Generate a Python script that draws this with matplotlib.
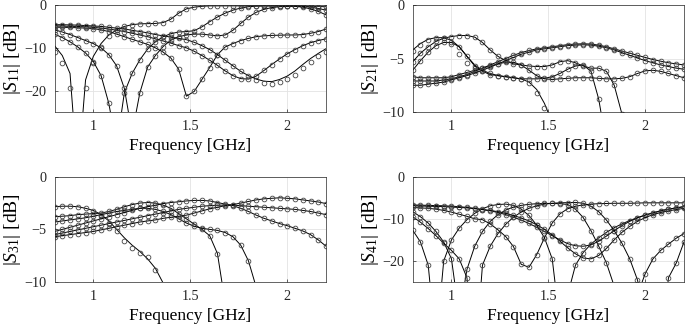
import numpy as np
import matplotlib
matplotlib.use("Agg")
import matplotlib.pyplot as plt

plt.rcParams['font.family'] = ['Liberation Serif', 'DejaVu Serif']
plt.rcParams['mathtext.fontset'] = 'custom'
plt.rcParams['mathtext.rm'] = 'Liberation Serif'
plt.rcParams['mathtext.it'] = 'Liberation Serif:italic'

nan = np.nan

# ----------------------------------- frequency grid [GHz] -----------------------------------
freq = [0.80, 0.84, 0.88, 0.92, 0.96, 1.00, 1.04, 1.08, 1.12, 1.16, 1.20, 1.24,
        1.28, 1.32, 1.36, 1.40, 1.44, 1.48, 1.52, 1.56, 1.60, 1.64, 1.68, 1.72,
        1.76, 1.80, 1.84, 1.88, 1.92, 1.96, 2.00, 2.04, 2.08, 2.12, 2.16, 2.20]

# ----------------------------------- |S11| [dB], six states (simulated) -----------------------------------
s11_a = [-9.5, -11.8, -16.0, -40, -17.5, -12.0, -9.0, -7.0, -5.8, -5.0, -4.6, -4.4,
         -4.35, -4.3, -4.1, -3.3, -1.9, -0.9, -0.5, -0.3, -0.2, -0.2, -0.2, -0.2,
         -0.2, -0.2, -0.2, -0.2, -0.2, -0.2, -0.2, -0.2, -0.25, -0.3, -0.35, -0.4]
s11_b = [-6.8, -7.6, -8.6, -9.8, -11.2, -13.2, -16.5, -23.0, -33, -20.5, -16.0, -12.8,
         -10.3, -8.6, -7.4, -6.7, -6.3, -6.2, -6.0, -5.1, -3.9, -2.8, -1.9, -1.2,
         -0.7, -0.4, -0.25, -0.2, -0.2, -0.2, -0.2, -0.2, -0.3, -0.5, -0.8, -1.2]
s11_c = [-5.8, -6.3, -6.9, -7.6, -8.3, -9.0, -10.0, -11.6, -14.2, -19.5, -30, -20.5,
         -14.5, -11.8, -9.7, -8.2, -7.4, -7.0, -6.8, -6.8, -7.0, -7.2, -7.0, -5.9,
         -4.3, -2.8, -1.7, -1.0, -0.6, -0.4, -0.3, -0.3, -0.5, -0.9, -1.5, -2.3]
s11_d = [-5.2, -5.2, -5.25, -5.3, -5.4, -5.5, -5.8, -6.2, -6.8, -7.4, -8.0, -8.6,
         -9.2, -10.0, -11.0, -12.4, -15.0, -21.3, -20.2, -17.4, -14.6, -11.6, -9.8, -9.0,
         -8.3, -7.8, -7.4, -7.2, -7.1, -7.05, -7.0, -7.0, -6.9, -6.6, -6.2, -5.6]
s11_e = [-4.9, -4.9, -5.0, -5.0, -5.1, -5.2, -5.4, -5.6, -5.9, -6.2, -6.6, -7.0,
         -7.4, -7.9, -8.4, -8.9, -9.5, -10.0, -10.8, -11.8, -12.9, -14.1, -15.4, -16.5,
         -17.2, -17.3, -16.6, -15.3, -13.9, -12.6, -11.4, -10.4, -9.5, -8.8, -8.3, -7.9]
s11_f = [-4.6, -4.6, -4.65, -4.7, -4.8, -4.9, -5.0, -5.2, -5.4, -5.6, -5.9, -6.2,
         -6.5, -6.9, -7.2, -7.5, -7.8, -8.1, -8.7, -9.5, -10.4, -11.6, -12.9, -14.2,
         -15.5, -16.5, -17.3, -17.8, -17.9, -17.4, -16.6, -15.4, -13.9, -12.5, -11.3, -10.2]

# measured points that sit visibly off the simulated curve
s11_a_meas = [-10.9, -13.5, -19.5, -30, -19.5, -13.5, -9.8, -7.3, -5.9, -5.0, -4.6, -4.4,
              -4.35, -4.3, -4.1, -3.3, -1.9, -0.9, -0.5, -0.3, -0.2, -0.2, -0.2, -0.2,
              -0.2, -0.2, -0.2, -0.2, -0.2, -0.2, -0.2, -0.2, -0.25, -0.3, -0.35, -0.4]
s11_f_meas = [-4.6, -4.6, -4.65, -4.7, -4.8, -4.9, -5.0, -5.2, -5.4, -5.6, -5.9, -6.2,
              -6.5, -6.9, -7.2, -7.5, -7.8, -8.1, -8.7, -9.5, -10.4, -11.6, -12.9, -14.2,
              -15.5, -16.6, -17.5, -18.2, -18.4, -18.1, -17.4, -16.3, -14.8, -13.4, -12.0, -10.9]

# ----------------------------------- |S21| [dB] -----------------------------------
s21_a = [-4.2, -3.6, -3.2, -3.05, -3.05, -3.3, -3.9, -4.8, -5.6, -6.1, -6.4, -6.6,
         -6.7, -6.8, -6.9, -7.2, -7.9, -9.2, -11.0, -14.0, nan, nan, nan, nan,
         nan, nan, nan, nan, nan, nan, nan, nan, nan, nan, nan, nan]
s21_b = [-6.1, -5.2, -4.4, -3.8, -3.5, -3.5, -3.9, -4.8, -5.7, -6.2, -6.5, -6.6,
         -6.7, -6.8, -6.9, -6.9, -6.9, -6.85, -6.7, -6.4, -6.0, -5.7, -5.6, -6.2,
         -8.8, -13.0, nan, nan, nan, nan, nan, nan, nan, nan, nan, nan]
s21_c = [-5.3, -4.5, -3.9, -3.4, -3.1, -2.95, -2.85, -2.85, -3.0, -3.5, -4.2, -4.8,
         -5.2, -5.5, -5.6, -5.7, -5.75, -5.75, -5.6, -5.3, -5.2, -5.4, -5.7, -5.9,
         -5.9, -6.2, -7.5, -10.2, -14.0, nan, nan, nan, nan, nan, nan, nan]
s21_d = [-6.7, -6.8, -6.8, -6.8, -6.8, -6.7, -6.5, -6.3, -6.1, -5.9, -5.7, -5.5,
         -5.35, -5.35, -5.6, -6.1, -6.6, -6.9, -6.95, -6.9, -6.85, -6.8, -6.8, -6.8,
         -6.85, -6.9, -6.9, -6.85, -6.7, -6.4, -6.15, -6.1, -6.2, -6.4, -6.6, -6.8]
s21_e = [-7.1, -7.1, -7.1, -7.1, -7.0, -6.9, -6.7, -6.5, -6.2, -5.9, -5.6, -5.3,
         -5.0, -4.7, -4.45, -4.25, -4.1, -4.0, -3.9, -3.8, -3.7, -3.65, -3.62, -3.65,
         -3.75, -3.9, -4.1, -4.3, -4.5, -4.7, -4.9, -5.1, -5.25, -5.4, -5.5, -5.6]
s21_f = [-7.5, -7.5, -7.4, -7.3, -7.2, -7.0, -6.8, -6.6, -6.35, -6.1, -5.8, -5.5,
         -5.2, -4.9, -4.6, -4.4, -4.2, -4.1, -4.0, -3.9, -3.8, -3.75, -3.72, -3.75,
         -3.85, -4.0, -4.2, -4.45, -4.7, -4.95, -5.2, -5.4, -5.6, -5.75, -5.9, -6.0]

s21_a_meas = [-4.3, -3.7, -3.3, -3.1, -3.1, -3.6, -4.6, -5.4, -5.9, -6.2, -6.4, -6.6,
              -6.7, -6.8, -6.9, -7.3, -8.2, -9.6, -11.5, -14.5, nan, nan, nan, nan,
              nan, nan, nan, nan, nan, nan, nan, nan, nan, nan, nan, nan]

# ----------------------------------- |S31| [dB] -----------------------------------
s31_a = [-2.85, -2.8, -2.8, -2.85, -3.0, -3.2, -3.6, -4.2, -5.0, -5.8, -6.5, -7.1,
         -7.8, -8.7, -10.1, -12.5, nan, nan, nan, nan, nan, nan, nan, nan,
         nan, nan, nan, nan, nan, nan, nan, nan, nan, nan, nan, nan]
s31_b = [-3.8, -3.75, -3.7, -3.6, -3.55, -3.5, -3.45, -3.3, -3.1, -2.85, -2.65, -2.5,
         -2.45, -2.5, -2.7, -3.0, -3.5, -4.0, -4.5, -5.0, -5.6, -7.3, -12.0, nan,
         nan, nan, nan, nan, nan, nan, nan, nan, nan, nan, nan, nan]
s31_c = [-4.3, -4.2, -4.1, -4.0, -3.9, -3.75, -3.6, -3.45, -3.3, -3.2, -3.1, -3.0,
         -3.0, -3.1, -3.3, -3.6, -4.0, -4.4, -4.7, -4.9, -5.0, -5.1, -5.3, -5.7,
         -6.5, -8.0, -10.5, nan, nan, nan, nan, nan, nan, nan, nan, nan]
s31_d = [-5.2, -5.0, -4.8, -4.6, -4.4, -4.2, -4.0, -3.8, -3.6, -3.4, -3.2, -3.0,
         -2.85, -2.7, -2.55, -2.45, -2.38, -2.3, -2.25, -2.25, -2.3, -2.45, -2.6, -2.75,
         -3.0, -3.3, -3.65, -3.95, -4.2, -4.45, -4.65, -4.9, -5.15, -5.5, -6.0, -6.6]
s31_e = [-5.5, -5.35, -5.2, -5.05, -4.9, -4.75, -4.6, -4.45, -4.3, -4.15, -4.0, -3.85,
         -3.7, -3.55, -3.4, -3.25, -3.1, -3.0, -2.9, -2.8, -2.75, -2.7, -2.7, -2.7,
         -2.75, -2.8, -2.85, -2.9, -2.95, -3.0, -3.05, -3.1, -3.2, -3.3, -3.45, -3.6]
s31_f = [-5.7, -5.6, -5.5, -5.4, -5.3, -5.2, -5.05, -4.9, -4.75, -4.6, -4.45, -4.3,
         -4.2, -4.1, -3.95, -3.85, -3.75, -3.65, -3.45, -3.25, -3.05, -2.9, -2.75, -2.65,
         -2.5, -2.35, -2.2, -2.1, -2.05, -2.0, -2.05, -2.1, -2.2, -2.3, -2.4, -2.55]

s31_a_meas = [-2.85, -2.8, -2.8, -2.85, -3.0, -3.25, -3.7, -4.4, -5.2, -6.1, -6.8, -7.2,
              -7.6, -8.9, -10.5, -12.5, nan, nan, nan, nan, nan, nan, nan, nan,
              nan, nan, nan, nan, nan, nan, nan, nan, nan, nan, nan, nan]

# ----------------------------------- |S41| [dB] -----------------------------------
s41_a = [-12.7, -15.5, -21.0, -40, -20.0, -15.0, -12.2, -10.2, -8.7, -7.6, -6.9, -6.6,
         -6.5, -6.8, -7.7, -9.2, -11.5, -14.5, -19.5, -35, -28, -21.0, -18.0, -16.0,
         -14.5, -13.2, -12.1, -11.2, -10.4, -9.7, -9.1, -8.6, -8.1, -7.7, -7.4, -7.1]
s41_b = [-8.3, -9.5, -11.0, -13.0, -15.5, -19.5, -33, -22.0, -16.5, -13.0, -10.6, -9.0,
         -7.9, -7.2, -6.8, -6.55, -6.4, -6.35, -6.35, -6.4, -6.6, -7.7, -9.7, -12.8,
         -16.5, -20.5, -26, -40, -40, -28, -23.0, -19.5, -17.5, -16.0, -14.6, -13.5]
s41_c = [-9.5, -10.8, -12.3, -14.0, -15.8, -17.5, -19.5, -24.0, -45, -21.0, -16.5, -13.5,
         -11.3, -9.6, -8.4, -7.5, -6.9, -6.5, -6.3, -6.2, -6.15, -6.1, -6.3, -7.0,
         -8.3, -10.3, -12.8, -15.8, -19.5, -24.5, -33, -40, -40, -24.0, -20.5, -15.5]
s41_d = [-7.3, -7.4, -7.5, -7.7, -8.0, -8.4, -8.9, -9.4, -10.0, -10.2, -11.2, -12.6,
         -14.2, -16.6, -20.8, -21.5, -18.5, -14.5, -11.0, -8.8, -7.6, -7.0, -6.7, -6.5,
         -6.4, -6.35, -6.3, -6.3, -6.3, -6.25, -6.2, -6.2, -6.2, -6.2, -6.2, -6.2]
s41_e = [-6.7, -6.75, -6.8, -6.85, -6.9, -7.0, -7.1, -7.3, -7.5, -7.8, -8.1, -8.5,
         -9.0, -9.6, -10.3, -11.1, -12.0, -13.0, -14.0, -15.0, -15.9, -16.4, -16.5, -16.2,
         -15.3, -14.1, -12.8, -11.6, -10.6, -9.8, -9.1, -8.6, -8.1, -7.7, -7.4, -7.1]
s41_f = [-6.9, -6.95, -7.0, -7.05, -7.1, -7.2, -7.3, -7.4, -7.6, -7.8, -8.0, -8.3,
         -8.7, -9.2, -9.8, -10.5, -11.4, -12.5, -13.8, -15.3, -16.9, -18.3, -19.3, -19.5,
         -18.7, -17.0, -15.0, -13.2, -11.8, -10.6, -9.7, -9.0, -8.5, -8.1, -7.8, -7.5]

# (simulated line, measured markers) per state; markers fall back to the line values
panels = [
    ([(s11_a, s11_a_meas), (s11_b, s11_b), (s11_c, s11_c), (s11_d, s11_d),
      (s11_e, s11_e), (s11_f, s11_f_meas)], '11', (-25, 0), [-20, -10, 0]),
    ([(s21_a, s21_a_meas), (s21_b, s21_b), (s21_c, s21_c), (s21_d, s21_d),
      (s21_e, s21_e), (s21_f, s21_f)], '21', (-10, 0), [-10, -5, 0]),
    ([(s31_a, s31_a_meas), (s31_b, s31_b), (s31_c, s31_c), (s31_d, s31_d),
      (s31_e, s31_e), (s31_f, s31_f)], '31', (-10, 0), [-10, -5, 0]),
    ([(s41_a, s41_a), (s41_b, s41_b), (s41_c, s41_c), (s41_d, s41_d),
      (s41_e, s41_e), (s41_f, s41_f)], '41', (-25, 0), [-20, -10, 0]),
]

# axes positions in figure fractions (left, bottom, width, height)
boxes = [(0.0796, 0.6585, 0.3964, 0.3262),
         (0.6025, 0.6585, 0.3960, 0.3262),
         (0.0796, 0.1402, 0.3964, 0.3210),
         (0.6025, 0.1402, 0.3960, 0.3210)]

fig = plt.figure(figsize=(6.85, 3.28), dpi=100)

for (curves, idx, ylim, yticks), box in zip(panels, boxes):
    ax = fig.add_axes(box)
    for sim, meas in curves:
        ax.plot(freq, sim, color='black', lw=0.7)
        ax.plot(freq, meas, ls='none', marker='o', ms=3.4, mfc='none',
                mec='#444444', mew=0.6)
    ax.set_xlim(0.8, 2.2)
    ax.set_ylim(*ylim)
    ax.set_xticks([1, 1.5, 2])
    ax.set_xticklabels(['1', '1.5', '2'])
    ax.set_yticks(yticks)
    ax.grid(True, color='#e3e3e3', lw=0.6)
    ax.set_axisbelow(True)
    ax.tick_params(direction='in', length=2.5, width=0.5, labelsize=10.2,
                   colors='#262626', pad=6)
    for sp in ax.spines.values():
        sp.set_color('#262626')
        sp.set_linewidth(0.5)
    ax.set_xlabel('Frequency [GHz]', fontsize=12.5, labelpad=3)
    ax.set_ylabel(r'$|S_{%s}|$ [dB]' % idx, fontsize=14, labelpad=1)

plt.savefig('out.png', dpi=100)
